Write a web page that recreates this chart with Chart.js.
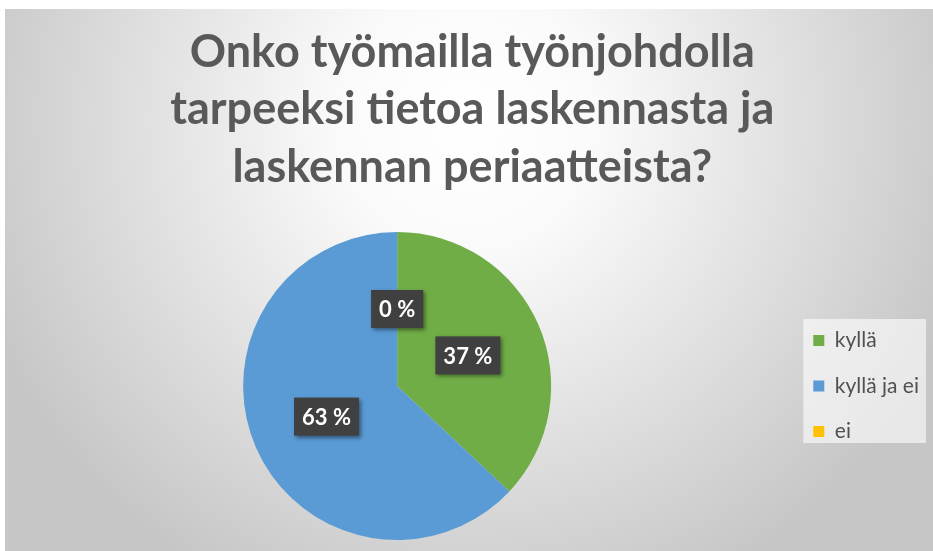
<!DOCTYPE html>
<html><head><meta charset="utf-8">
<script src="https://cdn.jsdelivr.net/npm/chart.js@4.4.0/dist/chart.umd.min.js"></script>
<style>html,body{margin:0;padding:0;background:#fff;overflow:hidden}canvas{display:block}</style>
</head><body>
<canvas id="c" width="933" height="551"></canvas>
<script>
const titleLines = ['Onko työmailla työnjohdolla', 'tarpeeksi tietoa laskennasta ja', 'laskennan periaatteista?'];
const categories = ['kyllä', 'kyllä ja ei', 'ei'];
const percentValues = [37, 63, 0];
const sliceColors = ['#70AD47', '#5B9BD5', '#FFC000'];

const bgPlugin = {
  id: 'bg',
  afterLayout(chart) {
    if (chart.titleBlock) {
      chart.titleBlock.left += 5;
      chart.titleBlock.right += 5;
    }
  },
  beforeDraw(chart) {
    const {ctx, width, height} = chart;
    ctx.save();
    ctx.fillStyle = '#ffffff';
    ctx.fillRect(0, 0, width, height);
    const g = ctx.createRadialGradient(467, 120, 0, 467, 120, 520);
    g.addColorStop(0, '#ffffff');
    g.addColorStop(0.25, '#fafafa');
    g.addColorStop(1, '#c6c6c6');
    ctx.fillStyle = g;
    ctx.fillRect(5, 9, width - 5, height - 9);
    const hb = chart.legend && chart.legend.legendHitBoxes;
    if (hb && hb.length) {
      const first = hb[0], last = hb[hb.length - 1];
      let right = 0;
      hb.forEach(h => { right = Math.max(right, h.left + h.width); });
      const l = first.left - 10, t = first.top - 11;
      ctx.fillStyle = 'rgba(255,255,255,0.6)';
      ctx.fillRect(l, t, right + 7 - l, last.top + last.height + 1 - t);
    }
    ctx.restore();
  }
};

const labelPlugin = {
  id: 'boxLabels',
  afterDatasetsDraw(chart) {
    const ctx = chart.ctx;
    const meta = chart.getDatasetMeta(0);
    const data = chart.data.datasets[0].data;
    const total = data.reduce((a, b) => a + b, 0);
    ctx.save();
    ctx.font = 'bold 22px Lato';
    meta.data.forEach((arc, i) => {
      const p = arc.tooltipPosition();
      const txt = Math.round(data[i] / total * 100) + ' %';
      const w = ctx.measureText(txt).width + 16, h = 38;
      ctx.shadowColor = 'rgba(0,0,0,0.45)';
      ctx.shadowBlur = 4; ctx.shadowOffsetX = 2; ctx.shadowOffsetY = 2;
      ctx.fillStyle = '#404040';
      ctx.fillRect(p.x - w / 2, p.y - h / 2, w, h);
      ctx.shadowColor = 'transparent';
      ctx.fillStyle = '#ffffff';
      ctx.textAlign = 'center';
      ctx.textBaseline = 'middle';
      ctx.fillText(txt, p.x, p.y + 1);
    });
    ctx.restore();
  }
};

new Chart(document.getElementById('c'), {
  type: 'pie',
  data: {
    labels: categories,
    datasets: [{
      data: percentValues,
      backgroundColor: sliceColors,
      borderWidth: 0
    }]
  },
  options: {
    responsive: false,
    animation: false,
    devicePixelRatio: 1,
    layout: {padding: {left: 5.5, right: 4, top: 0, bottom: 11}},
    plugins: {
      title: {
        display: true,
        text: titleLines,
        color: '#595959',
        font: {family: 'Lato', size: 45, weight: 'bold', lineHeight: 57.25 / 45},
        padding: {top: 24, bottom: 36.25}
      },
      legend: {
        position: 'right',
        fullSize: false,
        labels: {
          boxWidth: 11,
          boxHeight: 11,
          padding: 24.5,
          color: '#505050',
          font: {family: 'Lato', size: 21}
        }
      },
      tooltip: {enabled: false}
    }
  },
  plugins: [bgPlugin, labelPlugin]
});
</script>
</body></html>
